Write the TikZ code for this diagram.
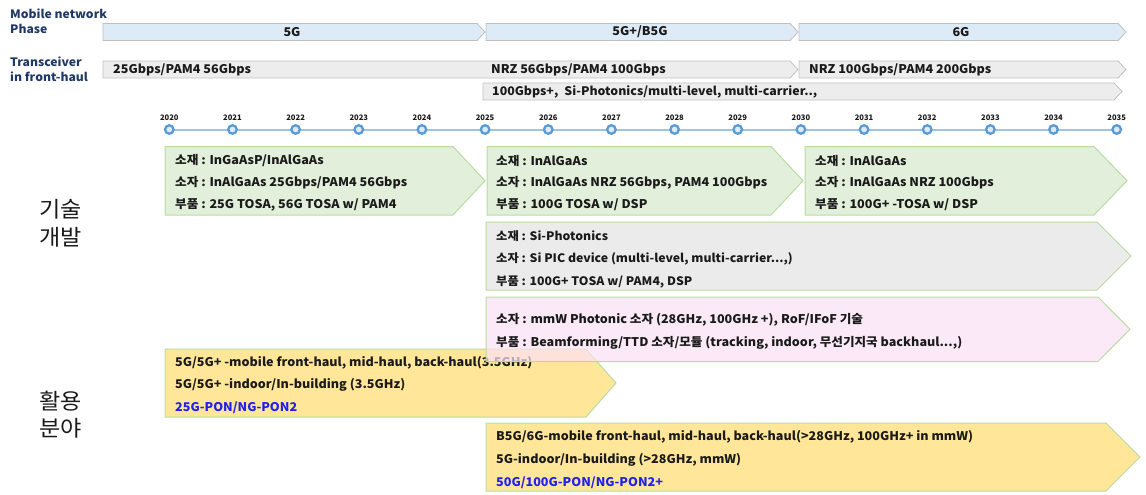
\documentclass[tikz,border=0pt]{standalone}
\usepackage{fontspec}
\setmainfont{Noto Sans CJK KR}
\newfontfamily\widefont{Noto Sans CJK KR}[FakeStretch=1.05]
\definecolor{hdrblue}{HTML}{203864}
\definecolor{phasefill}{HTML}{DDEBF7}
\definecolor{barfill}{HTML}{EDEDED}
\definecolor{barline}{HTML}{C0C0C0}
\definecolor{greenfill}{HTML}{E2EFDA}
\definecolor{greenline}{HTML}{B9DCA3}
\definecolor{grayfill}{HTML}{EBEBEB}
\definecolor{pinkfill}{HTML}{FBE1F4}
\definecolor{yellowfill}{HTML}{FFE699}
\definecolor{tlline}{HTML}{9DC3E6}
\definecolor{tldot}{HTML}{5B9BD5}
\definecolor{tldotfill}{HTML}{DEEBF7}
\definecolor{ponblue}{HTML}{1F1FF0}
\definecolor{ink}{HTML}{1A1A1A}

% pentagon-shaped arrow box: style, x1, y1, x2 (tip), y2, tip depth
\newcommand\chevbox[6]{%
  \path[#1] (#2,#3) -- ({#4-#6},#3) -- (#4,{(#3+#5)/2}) -- ({#4-#6},#5) -- (#2,#5) -- cycle;}

\begin{document}
\begin{tikzpicture}[x=1pt,y=-1pt,
  hdr/.style={anchor=west,inner sep=0pt,text=hdrblue,font=\widefont\bfseries\fontsize{11.6}{13}\selectfont},
  bartxt/.style={inner sep=0pt,text=ink,font=\widefont\bfseries\fontsize{12}{13}\selectfont},
  phasebar/.style={draw=barline,fill=phasefill,line width=0.8pt},
  trbar/.style={draw=barline,fill=barfill,line width=0.8pt},
  greenbox/.style={draw=greenline,fill=greenfill,line width=1pt},
  graybox/.style={draw=greenline,fill=grayfill,line width=1pt},
  pinkbox/.style={draw=greenline,fill=pinkfill,fill opacity=0.72,line width=1pt},
  yellowbox/.style={draw=greenline,fill=yellowfill,line width=1pt},
  txt/.style={anchor=west,inner sep=0pt,text=ink,font=\widefont\bfseries\fontsize{12}{13}\selectfont},
  narrow/.style={txt,font=\widefont\bfseries\fontsize{11.7}{13}\selectfont},
  pon/.style={txt,text=ponblue},
  yr/.style={inner sep=0pt,text=ink,font=\bfseries\fontsize{7.6}{8}\selectfont},
  dot/.style={circle,minimum size=8.5pt,inner sep=0pt,draw=tldot,line width=2.3pt,fill=tldotfill},
  side/.style={anchor=west,inner sep=0pt,text=ink,font=\widefont\fontsize{22}{24}\selectfont}]
\useasboundingbox (0,0) rectangle (1146,495);

% header labels
\node[hdr] (hphase1) at (10,14) {Mobile network};
\node[hdr] (hphase2) at (10,29) {Phase};
\node[hdr] (htr1) at (10,62) {Transceiver};
\node[hdr] (htr2) at (10,77) {in front-haul};

% mobile network phases
\chevbox{phasebar}{103}{23.5}{485}{40.5}{8}
\chevbox{phasebar}{486}{23.5}{798}{40.5}{8}
\chevbox{phasebar}{799}{23.5}{1126}{40.5}{8}
\node[bartxt] (p5g) at (292,32) {5G};
\node[bartxt] (p5gp) at (640,32) {5G+/B5G};
\node[bartxt] (p6g) at (961,32) {6G};

% transceiver rows
\chevbox{trbar}{103}{61}{798}{78}{8}
\chevbox{trbar}{799}{61}{1126}{78}{8}
\chevbox{trbar}{483}{83}{1122}{100}{8}
\node[bartxt,anchor=west] (tr1) at (113,70) {25Gbps/PAM4 56Gbps};
\node[bartxt,anchor=west] (tr2) at (491,70) {NRZ 56Gbps/PAM4 100Gbps};
\node[bartxt,anchor=west] (tr3) at (809,70) {NRZ 100Gbps/PAM4 200Gbps};
\node[bartxt,anchor=west,font=\widefont\bfseries\fontsize{11.8}{13}\selectfont] (tr4) at (492,92) {100Gbps+,\hspace{6pt}Si-Photonics/multi-level, multi-carrier..,};

% timeline
\foreach \i in {0,...,15} {
  \coordinate (c\i) at ({169.3+63.16*\i},129.5);
}
\draw[tlline,line width=2pt] (c0) -- (c15);
\foreach \i [evaluate=\i as \yy using int(2020+\i)] in {0,...,15} {
  \node[dot] (d\i) at (c\i) {};
  \node[yr] (yl\i) at ({169.3+63.16*\i},117.5) {\yy};
}

% technology development
\chevbox{greenbox}{165}{146.5}{485}{215}{32}
\chevbox{greenbox}{487}{146.5}{803}{215}{32}
\chevbox{greenbox}{805}{146.5}{1127}{215}{33}
\node[txt] (g1a) at (175,161) {소재 : InGaAsP/InAlGaAs};
\node[txt] (g1b) at (175,183) {소자 : InAlGaAs 25Gbps/PAM4 56Gbps};
\node[txt] (g1c) at (175,205) {부품 : 25G TOSA, 56G TOSA w/ PAM4};
\node[txt] (g2a) at (496,161) {소재 : InAlGaAs};
\node[txt] (g2b) at (496,183) {소자 : InAlGaAs NRZ 56Gbps, PAM4 100Gbps};
\node[txt] (g2c) at (496,205) {부품 : 100G TOSA w/ DSP};
\node[txt] (g3a) at (815,161) {소재 : InAlGaAs};
\node[txt] (g3b) at (815,183) {소자 : InAlGaAs NRZ 100Gbps};
\node[txt] (g3c) at (815,205) {부품 : 100G+ -TOSA w/ DSP};

\chevbox{graybox}{486}{222}{1131}{290}{34}
\node[narrow] (s1) at (496,236) {소재 : Si-Photonics};
\node[narrow] (s2) at (496,259) {소자 : Si PIC device (multi-level, multi-carrier...,)};
\node[narrow] (s3) at (496,282) {부품 : 100G+ TOSA w/ PAM4, DSP};

% application fields (lower box first, the mmW box overlaps it)
\chevbox{yellowbox}{165}{349}{616}{417}{30}
\node[txt] (a1) at (175,363) {5G/5G+ -mobile front-haul, mid-haul, back-haul(3.5GHz)};
\node[txt] (a2) at (175,385) {5G/5G+ -indoor/In-building (3.5GHz)};
\node[pon] (a3) at (175,408) {25G-PON/NG-PON2};

\chevbox{pinkbox}{486}{297}{1130}{361.5}{32}
\node[txt] (m1) at (496,320) {소자 : mmW Photonic 소자 (28GHz, 100GHz +), RoF/IFoF 기술};
\node[txt] (m2) at (496,343) {부품 : Beamforming/TTD 소자/모듈 (tracking, indoor, 무선기지국 backhaul...,)};

\chevbox{yellowbox}{486}{423}{1140}{491}{34}
\node[txt] (b1) at (496,437) {B5G/6G-mobile front-haul, mid-haul, back-haul(>28GHz, 100GHz+ in mmW)};
\node[txt] (b2) at (496,460) {5G-indoor/In-building (>28GHz, mmW)};
\node[pon] (b3) at (496,483) {50G/100G-PON/NG-PON2+};

% row titles
\node[side] (t1) at (39,209) {기술};
\node[side] (t2) at (39,237) {개발};
\node[side] (t3) at (39,401) {활용};
\node[side] (t4) at (39,428) {분야};
\end{tikzpicture}
\end{document}
